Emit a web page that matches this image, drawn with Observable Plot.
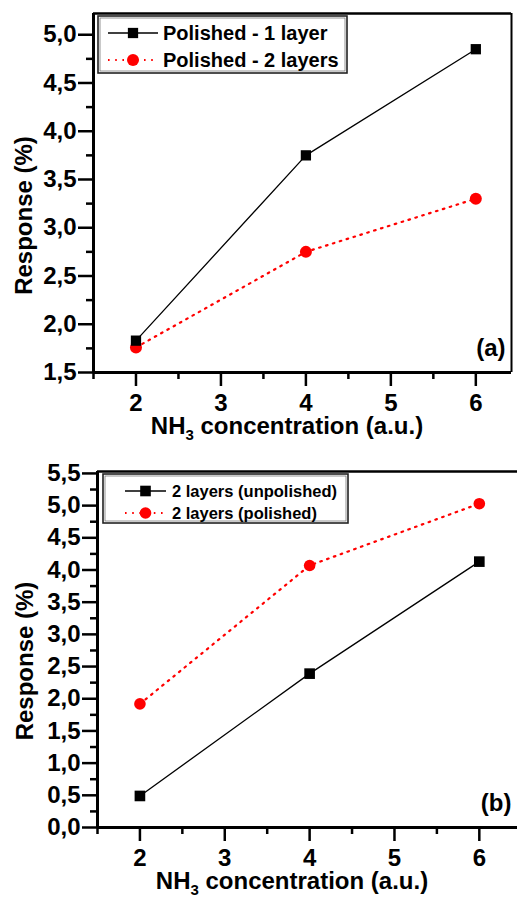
<!DOCTYPE html>
<html>
<head>
<meta charset="utf-8">
<script src="https://cdn.jsdelivr.net/npm/d3@7"></script>
<script src="https://cdn.jsdelivr.net/npm/@observablehq/plot@0.6"></script>
<style>
  html, body { margin: 0; padding: 0; background: #fff; }
  #chart { width: 517px; font-family: "Liberation Sans", Arial, sans-serif; }
  #chart svg { display: block; }
</style>
</head>
<body>
<div id="chart"></div>
<script>
// ---- data ----
const concentration = [2, 4, 6];

// panel (a)
const aSeriesNames = ["Polished - 1 layer", "Polished - 2 layers"];
const aOneLayer = [1.83, 3.75, 4.85];
const aTwoLayers = [1.76, 2.75, 3.30];

// panel (b)
const bSeriesNames = ["2 layers (unpolished)", "2 layers (polished)"];
const bUnpolished = [0.49, 2.39, 4.13];
const bPolished = [1.92, 4.07, 5.03];

// ticks
const xMajor = [2, 3, 4, 5, 6];
const xMinor = [1.5, 2.5, 3.5, 4.5, 5.5];
const aYMajor = [1.5, 2.0, 2.5, 3.0, 3.5, 4.0, 4.5, 5.0];
const aYMinor = [1.75, 2.25, 2.75, 3.25, 3.75, 4.25, 4.75];
const bYMajor = [0, 0.5, 1, 1.5, 2, 2.5, 3, 3.5, 4, 4.5, 5, 5.5];
const bYMinor = [0.25, 0.75, 1.25, 1.75, 2.25, 2.75, 3.25, 3.75, 4.25, 4.75, 5.25];

const yLabel = "Response (%)";
const xLabelParts = ["NH", "3", " concentration (a.u.)"];
const panelTags = ["(a)", "(b)"];

const fmt = d => d.toFixed(1).replace(".", ",");
const FONT = "Liberation Sans, Arial, sans-serif";
const RED_DASH = "1.6,5.6";

function rows(ys) { return concentration.map((x, i) => ({x, y: ys[i]})); }

function panel(cfg) {
  const s1 = rows(cfg.blackSeries), s2 = rows(cfg.redSeries);
  const marks = [
    Plot.ruleY([cfg.yDomain[1]], {stroke: "black", strokeWidth: 2.5}),
    cfg.rightFrame ? Plot.ruleX([cfg.xDomain[1]], {stroke: "black", strokeWidth: 2}) : null,
    Plot.axisY(cfg.yMinor, {tickSize: 7, tickFormat: () => "", strokeWidth: 2.5, label: null}),
    Plot.axisY(cfg.yMajor, {tickSize: 15, tickPadding: 2, tickFormat: fmt, strokeWidth: 2.5,
      fontSize: 24, fontWeight: "bold", label: null}),
    Plot.axisX(xMinor, {tickSize: 7, tickFormat: () => "", strokeWidth: 2.5, label: null}),
    Plot.axisX(xMajor, {tickSize: 14, tickPadding: 7, tickFormat: d => String(d), strokeWidth: 2.5,
      fontSize: 24, fontWeight: "bold", label: null}),
    Plot.ruleX([cfg.xDomain[0]], {stroke: "black", strokeWidth: 3}),
    Plot.ruleY([cfg.yDomain[0]], {stroke: "black", strokeWidth: 3}),
    Plot.line(s2, {x: "x", y: "y", stroke: "#ff0000", strokeWidth: 2.2, strokeDasharray: RED_DASH}),
    Plot.line(s1, {x: "x", y: "y", stroke: "black", strokeWidth: 1.3}),
    Plot.dot(s2, {x: "x", y: "y", fill: "#ff0000", r: cfg.circleR, symbol: "circle"}),
    Plot.dot(s1, {x: "x", y: "y", fill: "black", r: cfg.squareR, symbol: "square"}),
    Plot.text([cfg.tag], {frameAnchor: "bottom-right", dx: -6, dy: -17, textAnchor: "end",
      fontSize: 24, fontWeight: "bold", fill: "black"})
  ].filter(Boolean);

  const fig = Plot.plot({
    width: 517, height: cfg.height,
    marginTop: cfg.mt, marginBottom: cfg.mb, marginLeft: cfg.ml, marginRight: cfg.mr,
    style: {fontFamily: FONT, background: "white", color: "black", overflow: "visible"},
    x: {domain: cfg.xDomain, axis: null},
    y: {domain: cfg.yDomain, axis: null},
    marks
  });
  const svg = d3.select(fig);
  const xr = fig.scale("x").range, yr = fig.scale("y").range;
  const xMid = (xr[0] + xr[1]) / 2, yMid = (yr[0] + yr[1]) / 2;

  // axis titles
  const labels = svg.append("g").attr("font-family", FONT).attr("font-weight", "bold")
    .attr("font-size", 24).attr("fill", "black").attr("text-anchor", "middle");
  labels.append("text")
    .attr("transform", `translate(${xr[0] - cfg.yLabelOffset},${yMid + cfg.yLabelShift}) rotate(-90)`)
    .attr("dy", "0.36em").text(yLabel);
  const xl = labels.append("text")
    .attr("x", xMid + cfg.xLabelShift).attr("y", yr[0] + cfg.xLabelOffset);
  xl.append("tspan").text(xLabelParts[0]);
  xl.append("tspan").attr("dy", 6).attr("font-size", 15).text(xLabelParts[1]);
  xl.append("tspan").attr("dy", -6).text(xLabelParts[2]);

  // legend
  const L = cfg.legend;
  const g = svg.append("g").attr("font-family", FONT).attr("font-weight", "bold")
    .attr("font-size", L.fontSize).attr("text-anchor", "start");
  const lx = xr[0] + L.dx, ly = yr[1] + L.dy;
  g.append("rect").attr("x", lx).attr("y", ly).attr("width", L.w).attr("height", L.h)
    .attr("fill", "white").attr("stroke", "#222").attr("stroke-width", 1.6);
  g.append("rect").attr("x", lx + 2).attr("y", ly + 2).attr("width", L.w - 4).attr("height", L.h - 4)
    .attr("fill", "none").attr("stroke", "#666").attr("stroke-width", 0.7);
  const items = [
    {name: cfg.names[0], color: "black", dash: null, width: 1.3, sym: "square", r: cfg.squareR},
    {name: cfg.names[1], color: "#ff0000", dash: RED_DASH, width: 2.2, sym: "circle", r: cfg.circleR}
  ];
  items.forEach((it, i) => {
    const yy = ly + L.rowDy[i];
    const x0 = lx + L.lineDx[0], x1 = lx + L.lineDx[1];
    const ln = g.append("line").attr("x1", x0).attr("x2", x1).attr("y1", yy).attr("y2", yy)
      .attr("stroke", it.color).attr("stroke-width", it.width);
    if (it.dash) ln.attr("stroke-dasharray", it.dash);
    const mx = (x0 + x1) / 2;
    if (it.sym === "square") {
      const s = it.r * 1.77;
      g.append("rect").attr("x", mx - s / 2).attr("y", yy - s / 2).attr("width", s).attr("height", s).attr("fill", it.color);
    } else {
      g.append("circle").attr("cx", mx).attr("cy", yy).attr("r", it.r).attr("fill", it.color);
    }
    g.append("text").attr("x", lx + L.textDx).attr("y", yy).attr("dy", "0.36em").attr("fill", "black").text(it.name);
  });
  return fig;
}

const chart = document.getElementById("chart");
chart.appendChild(panel({
  height: 450, mt: 13, mb: 78, ml: 93, mr: 6,
  xDomain: [1.5, 6.42], yDomain: [1.5, 5.22],
  yMajor: aYMajor, yMinor: aYMinor,
  blackSeries: aOneLayer, redSeries: aTwoLayers, names: aSeriesNames,
  tag: panelTags[0], rightFrame: true,
  squareR: 5.8, circleR: 6,
  yLabelOffset: 70, yLabelShift: 23, xLabelShift: -15, xLabelOffset: 62,
  legend: {dx: 5, dy: 3, w: 249, h: 57, rowDy: [17, 44], lineDx: [10, 60], textDx: 65, fontSize: 20}
}));
chart.appendChild(panel({
  height: 447, mt: 21, mb: 70, ml: 97, mr: 0,
  xDomain: [1.5, 6.45], yDomain: [0, 5.53],
  yMajor: bYMajor, yMinor: bYMinor,
  blackSeries: bUnpolished, redSeries: bPolished, names: bSeriesNames,
  tag: panelTags[1], rightFrame: false,
  squareR: 6, circleR: 5.8,
  yLabelOffset: 73, yLabelShift: 12, xLabelShift: -15, xLabelOffset: 62,
  legend: {dx: 6, dy: 3, w: 245, h: 49, rowDy: [17, 39], lineDx: [22, 63], textDx: 69, fontSize: 16.5}
}));
</script>
</body>
</html>
